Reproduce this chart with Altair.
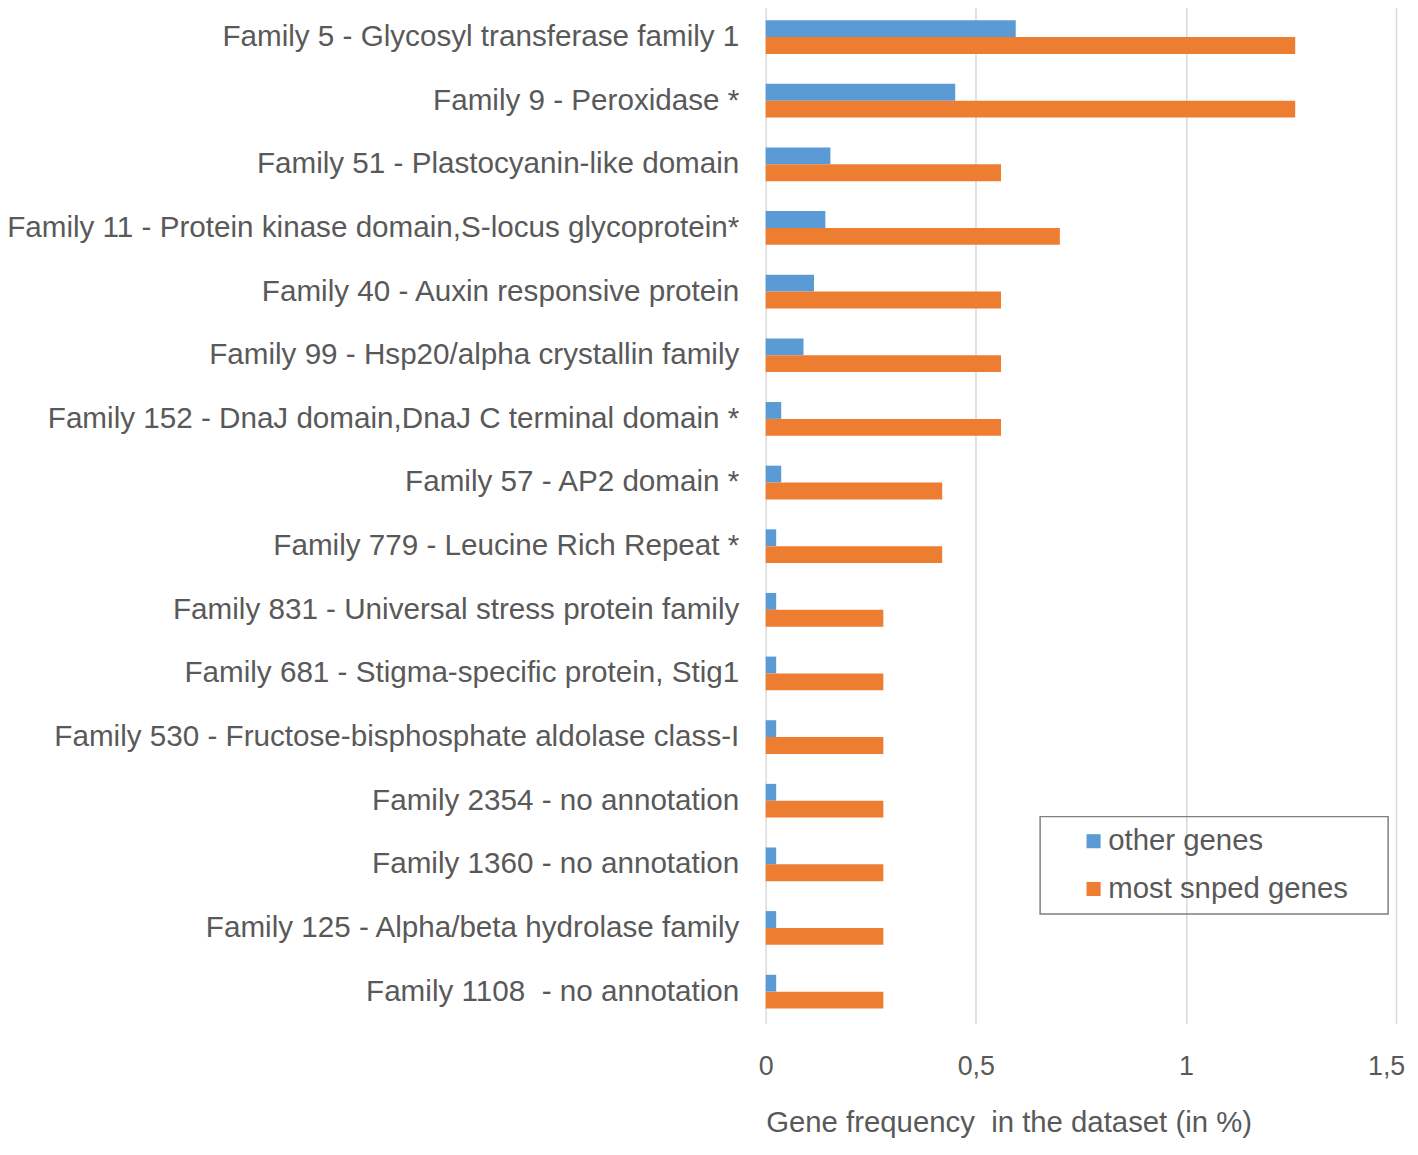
import altair as alt
import pandas as pd

families = [
    "Family 5 - Glycosyl transferase family 1",
    "Family 9 - Peroxidase *",
    "Family 51 - Plastocyanin-like domain",
    "Family 11 - Protein kinase domain,S-locus glycoprotein*",
    "Family 40 - Auxin responsive protein",
    "Family 99 - Hsp20/alpha crystallin family",
    "Family 152 - DnaJ domain,DnaJ C terminal domain *",
    "Family 57 - AP2 domain *",
    "Family 779 - Leucine Rich Repeat *",
    "Family 831 - Universal stress protein family",
    "Family 681 - Stigma-specific protein, Stig1",
    "Family 530 - Fructose-bisphosphate aldolase class-I",
    "Family 2354 - no annotation",
    "Family 1360 - no annotation",
    "Family 125 - Alpha/beta hydrolase family",
    "Family 1108\u00a0 - no annotation",
]
other_genes = [0.595, 0.451, 0.154, 0.142, 0.115, 0.09, 0.037, 0.037, 0.025,
               0.025, 0.025, 0.025, 0.025, 0.025, 0.025, 0.025]
most_snped = [1.26, 1.26, 0.56, 0.70, 0.56, 0.56, 0.56, 0.42, 0.42,
              0.28, 0.28, 0.28, 0.28, 0.28, 0.28, 0.28]
series = ["other genes", "most snped genes"]
colors = ["#5B9BD5", "#ED7D31"]

rows = []
for f, o, m in zip(families, other_genes, most_snped):
    rows.append({"family": f, "series": series[0], "value": o})
    rows.append({"family": f, "series": series[1], "value": m})
df = pd.DataFrame(rows)

FONT = "Liberation Sans"
TXT = "#595959"

chart = alt.Chart(df).mark_bar().encode(
    y=alt.Y("family:N", sort=families, title=None,
            scale=alt.Scale(paddingInner=0.47, paddingOuter=0.235),
            axis=alt.Axis(domain=False, ticks=False, labelFontSize=29.8,
                          labelColor=TXT, labelFont=FONT, labelPadding=27,
                          labelLimit=1000)),
    yOffset=alt.YOffset("series:N", sort=series,
                        scale=alt.Scale(domain=series)),
    x=alt.X("value:Q", title="Gene frequency\u00a0 in the dataset (in %)",
            scale=alt.Scale(domain=[0, 1.5], nice=False),
            axis=alt.Axis(values=[0, 0.5, 1, 1.5], domain=False, ticks=False,
                          grid=True, gridColor="#D9D9D9", gridWidth=1.5,
                          labelExpr="replace(toString(datum.value), '.', ',')",
                          labelFontSize=27, labelColor=TXT, labelFont=FONT,
                          labelPadding=30, labelFlush=False,
                          labelOffset={"condition": {"test": "datum.value == 1.5",
                                                     "value": -10},
                                       "value": 0},
                          titleFontSize=29.5, titleColor=TXT, titleFont=FONT,
                          titleFontWeight="normal", titleX=0, titleY=86,
                          titleAlign="left", titleBaseline="top")),
    color=alt.Color("series:N", sort=series,
                    scale=alt.Scale(domain=series, range=colors),
                    legend=alt.Legend(title="M", titleOrient="right",
                                      titleFontSize=20, titleOpacity=0,
                                      titlePadding=13,
                                      orient="none", legendX=276,
                                      legendY=816, strokeColor="#7F7F7F",
                                      padding=10, labelFontSize=29.5,
                                      labelColor=TXT, labelFont=FONT,
                                      labelLimit=1000,
                                      symbolType="square", symbolSize=200,
                                      symbolStrokeWidth=0, rowPadding=17,
                                      symbolOffset=29, labelOffset=0,
                                      offset=0)),
).properties(
    width=634, height=1024,
    autosize="none",
    padding={"left": 762, "top": -6, "right": 14, "bottom": 117},
).configure_view(stroke=None).configure_legend(strokeWidth=1.5)

chart.save("out.html", embed_options={"renderer": "svg", "actions": False})
